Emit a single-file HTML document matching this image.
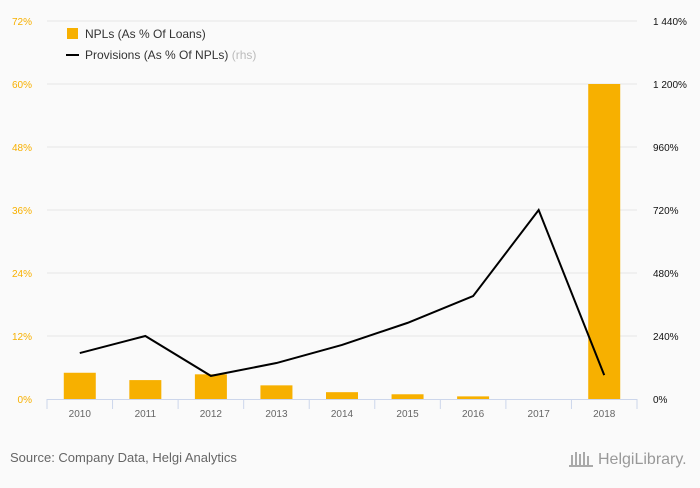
<!DOCTYPE html>
<html><head><meta charset="utf-8"><style>
body{margin:0;background:#fafafa;font-family:"Liberation Sans",sans-serif}
svg text{font-family:"Liberation Sans",sans-serif}
</style></head><body>
<svg id="c" width="700" height="483">
<rect width="700" height="483" fill="#fafafa"/>
<g id="grid"></g><g id="bars"></g><g id="axes"></g><g id="line"></g>
<g>
<rect x="67" y="28" width="11" height="11" fill="#f7b000"/>
<text x="85" y="38" font-size="12" fill="#333">NPLs (As % Of Loans)</text>
<rect x="66" y="54" width="13" height="2" fill="#000"/>
<text x="85" y="59" font-size="12" fill="#333">Provisions (As % Of NPLs) <tspan fill="#bbb">(rhs)</tspan></text>
</g>
<text x="10" y="462" font-size="13" fill="#666">Source: Company Data, Helgi Analytics</text>
<text x="598" y="464" font-size="16" fill="#999">HelgiLibrary.</text>
<g fill="#aaa"><rect x="571" y="455" width="2" height="10"/><rect x="575" y="452" width="2" height="13"/><rect x="579" y="454" width="2" height="11"/><rect x="583" y="452" width="2" height="13"/><rect x="587" y="456" width="2" height="9"/><rect x="569" y="465" width="24" height="2"/></g>
</svg>
<script>
const categories=["2010","2011","2012","2013","2014","2015","2016","2017","2018"];
const nplValues=[5.0,3.6,4.7,2.6,1.3,0.9,0.5,0,60];
const provisionValues=[175,240,88,137,206,290,392,720,91];
const leftTicks=[0,12,24,36,48,60,72];
const rightTicks=["0%","240%","480%","720%","960%","1 200%","1 440%"];
const ns="http://www.w3.org/2000/svg";
const X0=47,X1=637,Y0=399,Y1=21;
const bw=(X1-X0)/categories.length;
const yL=v=>Y0-(v/72)*(Y0-Y1);
const yR=v=>Y0-(v/1440)*(Y0-Y1);
const xC=i=>X0+bw*(i+0.5);
function mk(t,a,p){const e=document.createElementNS(ns,t);for(const k in a)e.setAttribute(k,a[k]);p.appendChild(e);return e;}
const grid=document.getElementById('grid'),bars=document.getElementById('bars'),axes=document.getElementById('axes'),line=document.getElementById('line');
leftTicks.forEach((t,i)=>{
 const y=yL(t);
 if(t>0){const g=mk('line',{x1:X0,x2:X1,y1:y,y2:y,stroke:'#e6e6e6'},grid);
 
 }
 const l=mk('text',{x:32,y:y+4,'font-size':10,fill:'#f7b000','text-anchor':'end'},axes);l.textContent=t+'%';
 
 
 const r=mk('text',{x:653,y:y+4,'font-size':10,fill:'#111'},axes);r.textContent=rightTicks[i];
 
 
});
nplValues.forEach((v,i)=>{
 const b=mk('rect',{x:xC(i)-16,y:yL(v),width:32,height:Y0-yL(v),fill:'#f7b000'},bars);
 
 
});
const ax=mk('line',{x1:X0,x2:X1,y1:Y0+0.5,y2:Y0+0.5,stroke:'#ccd6eb'},axes);


for(let i=0;i<=categories.length;i++){const t=mk('line',{x1:X0+bw*i,x2:X0+bw*i,y1:Y0,y2:Y0+10,stroke:'#ccd6eb'},axes);
 
 }
categories.forEach((c,i)=>{const t=mk('text',{x:xC(i),y:417,'font-size':10,fill:'#666','text-anchor':'middle'},axes);t.textContent=c;
 
 });
const p=mk('polyline',{points:provisionValues.map((v,i)=>xC(i)+','+yR(v)).join(' '),fill:'none',stroke:'#000','stroke-width':2},line);


</script>
</body></html>
